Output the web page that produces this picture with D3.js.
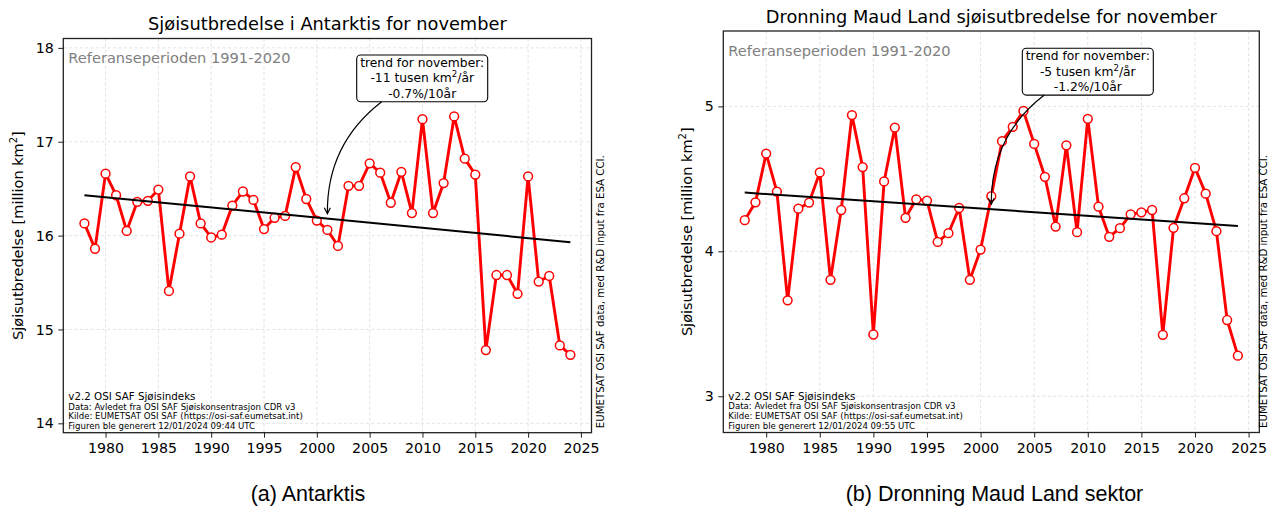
<!DOCTYPE html>
<html>
<head>
<meta charset="utf-8">
<script src="https://cdn.jsdelivr.net/npm/d3@7"></script>
<style>
  body { margin: 0; background: #fff; }
  svg { display: block; font-family: "DejaVu Sans", sans-serif; }
</style>
</head>
<body>
<svg id="chart" width="1269" height="508"></svg>
<script>
// ---------------- DATA ----------------
const years = [1978, 1979, 1980, 1981, 1982, 1983, 1984, 1985, 1986, 1987,
               1988, 1989, 1990, 1991, 1992, 1993, 1994, 1995, 1996, 1997,
               1998, 1999, 2000, 2001, 2002, 2003, 2004, 2005, 2006, 2007,
               2008, 2009, 2010, 2011, 2012, 2013, 2014, 2015, 2016, 2017,
               2018, 2019, 2020, 2021, 2022, 2023, 2024];

// Antarktis, november sea ice extent [million km2]
const antarktisValues = [16.13, 15.86, 16.66, 16.43, 16.05, 16.36, 16.37, 16.49, 15.41, 16.02,
                         16.63, 16.13, 15.98, 16.01, 16.32, 16.47, 16.38, 16.07, 16.19, 16.21,
                         16.73, 16.39, 16.16, 16.06, 15.89, 16.53, 16.53, 16.77, 16.67, 16.35,
                         16.68, 16.24, 17.24, 16.24, 16.56, 17.27, 16.82, 16.65, 14.78, 15.58,
                         15.58, 15.38, 16.63, 15.51, 15.57, 14.83, 14.73];

// Dronning Maud Land sector, november sea ice extent [million km2]
const dmlValues = [4.215, 4.338, 4.674, 4.412, 3.662, 4.294, 4.336, 4.544, 3.803, 4.285,
                   4.940, 4.581, 3.426, 4.482, 4.854, 4.231, 4.359, 4.350, 4.065, 4.125,
                   4.299, 3.803, 4.012, 4.380, 4.760, 4.859, 4.968, 4.741, 4.514, 4.171,
                   4.731, 4.132, 4.914, 4.308, 4.100, 4.160, 4.255, 4.269, 4.285, 3.424,
                   4.162, 4.366, 4.576, 4.398, 4.139, 3.526, 3.280];

// Trend lines (endpoints)
const trendYears = [1978, 2024];
const antarktisTrend = [16.43, 15.93];
const dmlTrend = [4.405, 4.175];
const annotationYear = 2001;

// Ticks
const xTickValues = [1980, 1985, 1990, 1995, 2000, 2005, 2010, 2015, 2020, 2025];
const antarktisYTicks = [14, 15, 16, 17, 18];
const dmlYTicks = [3, 4, 5];

// Texts
const antarktisTitle = "Sjøisutbredelse i Antarktis for november";
const dmlTitle = "Dronning Maud Land sjøisutbredelse for november";
const antarktisCaption = "(a) Antarktis";
const dmlCaption = "(b) Dronning Maud Land sektor";
const refText = "Referanseperioden 1991-2020";
const antarktisTrendText = ["trend for november:", "-11 tusen km", "/år", "-0.7%/10år"];
const dmlTrendText = ["trend for november:", "-5 tusen km", "/år", "-1.2%/10år"];
const sourceLines = ["v2.2 OSI SAF Sjøisindeks",
                     "Data: Avledet fra OSI SAF Sjøiskonsentrasjon CDR v3",
                     "Kilde: EUMETSAT OSI SAF (https://osi-saf.eumetsat.int)"];
const antarktisGenerated = "Figuren ble generert 12/01/2024 09:44 UTC";
const dmlGenerated = "Figuren ble generert 12/01/2024 09:55 UTC";
const sideText = "EUMETSAT OSI SAF data, med R&D input fra ESA CCI.";

// ---------------- LAYOUT ----------------
const panels = [
  {
    left: 63.3, right: 591.5, top: 38.5, bottom: 432.7,
    xDomain: [1976, 2026], yDomain: [13.9, 18.1],
    values: antarktisValues, yTicks: antarktisYTicks, trend: antarktisTrend,
    title: antarktisTitle, caption: antarktisCaption, captionX: 308,
    trendText: antarktisTrendText, generated: antarktisGenerated,
    boxCx: 422.2, boxTop: 55, arrowStartDx: -40.5,
    ylabelX: 18.3, sideX: 600
  },
  {
    left: 723.3, right: 1259.3, top: 31, bottom: 432.5,
    xDomain: [1976, 2026], yDomain: [2.75, 5.52],
    values: dmlValues, yTicks: dmlYTicks, trend: dmlTrend,
    title: dmlTitle, caption: dmlCaption, captionX: 994.5,
    trendText: dmlTrendText, generated: dmlGenerated,
    boxCx: 1087.8, boxTop: 48.3, arrowStartDx: -43.5,
    ylabelX: 687, sideX: 1263.5
  }
];

const svg = d3.select("#chart");
const RED = "#ff0000";

function drawPanel(p) {
  const g = svg.append("g");
  const x = d3.scaleLinear().domain(p.xDomain).range([p.left, p.right]);
  const y = d3.scaleLinear().domain(p.yDomain).range([p.bottom, p.top]);

  // grid
  const grid = g.append("g").attr("stroke", "#dadada").attr("stroke-width", 0.8)
    .attr("stroke-dasharray", "3,2.5");
  grid.selectAll("line.gx").data(xTickValues).join("line").attr("class", "gx")
    .attr("x1", d => x(d)).attr("x2", d => x(d)).attr("y1", p.top).attr("y2", p.bottom);
  grid.selectAll("line.gy").data(p.yTicks).join("line").attr("class", "gy")
    .attr("x1", p.left).attr("x2", p.right).attr("y1", d => y(d)).attr("y2", d => y(d));

  // axes
  const xAxis = d3.axisBottom(x).tickValues(xTickValues).tickSize(5).tickPadding(5.5)
    .tickFormat(d3.format("d"));
  const gx = g.append("g").attr("transform", `translate(0,${p.bottom})`).call(xAxis);
  const yAxis = d3.axisLeft(y).tickValues(p.yTicks).tickSize(5).tickPadding(4.5)
    .tickFormat(d3.format("d"));
  const gy = g.append("g").attr("transform", `translate(${p.left},0)`).call(yAxis);
  [gx, gy].forEach(a => {
    a.select(".domain").remove();
    a.selectAll("line").attr("stroke", "#222").attr("stroke-width", 1);
    a.selectAll("text").attr("font-family", "DejaVu Sans").attr("font-size", 14.2).attr("fill", "#000");
  });

  // data line + markers
  const line = d3.line().x((d, i) => x(years[i])).y(d => y(d));
  g.append("path").datum(p.values).attr("d", line).attr("fill", "none")
    .attr("stroke", RED).attr("stroke-width", 2.9).attr("stroke-linejoin", "round");
  g.selectAll("circle.pt").data(p.values).join("circle").attr("class", "pt")
    .attr("cx", (d, i) => x(years[i])).attr("cy", d => y(d)).attr("r", 4.4)
    .attr("fill", "#fff").attr("stroke", RED).attr("stroke-width", 1.5);

  // trend line
  const trendLine = d3.line().x((d, i) => x(trendYears[i])).y(d => y(d));
  g.append("path").datum(p.trend).attr("d", trendLine).attr("fill", "none")
    .attr("stroke", "#000").attr("stroke-width", 2);

  // frame
  g.append("rect").attr("x", p.left).attr("y", p.top)
    .attr("width", p.right - p.left).attr("height", p.bottom - p.top)
    .attr("fill", "none").attr("stroke", "#222").attr("stroke-width", 1.3);

  // title
  g.append("text").attr("x", (p.left + p.right) / 2).attr("y", p.top - 8.5)
    .attr("text-anchor", "middle").attr("font-size", 17.8).attr("fill", "#000").text(p.title);

  // caption
  g.append("text").attr("x", p.captionX).attr("y", 501)
    .attr("text-anchor", "middle").attr("font-family", "Liberation Sans, Arial, sans-serif")
    .attr("font-size", 21.5).attr("fill", "#000").text(p.caption);

  // y label
  const yl = g.append("text")
    .attr("transform", `translate(${p.ylabelX},${(p.top + p.bottom) / 2}) rotate(-90)`)
    .attr("text-anchor", "middle").attr("dy", "0.35em").attr("font-size", 14.5).attr("fill", "#000");
  yl.append("tspan").text("Sjøisutbredelse [million km");
  yl.append("tspan").attr("font-size", 10).attr("dy", -6).text("2");
  yl.append("tspan").attr("dy", 6).text("]");

  // reference period text
  g.append("text").attr("x", p.left + 5).attr("y", p.top + 24.8)
    .attr("font-size", 14.6).attr("fill", "#808080").text(refText);

  // source lines
  const srcBase = [p.bottom - 33, p.bottom - 23.2, p.bottom - 13.6];
  g.append("text").attr("x", p.left + 5).attr("y", srcBase[0])
    .attr("font-size", 10.3).attr("fill", "#000").text(sourceLines[0]);
  g.append("text").attr("x", p.left + 5).attr("y", srcBase[1])
    .attr("font-size", 8.6).attr("fill", "#000").text(sourceLines[1]);
  g.append("text").attr("x", p.left + 5).attr("y", srcBase[2])
    .attr("font-size", 8.6).attr("fill", "#000").text(sourceLines[2]);
  g.append("text").attr("x", p.left + 5).attr("y", p.bottom - 4)
    .attr("font-size", 8.6).attr("fill", "#000").text(p.generated);

  // side text
  g.append("text").attr("transform", `translate(${p.sideX},${p.bottom - 4.5}) rotate(-90)`)
    .attr("dy", "0.35em").attr("font-size", 10.2).attr("fill", "#000").text(sideText);

  // annotation box
  const ann = g.append("g");
  const rect = ann.append("rect");
  const fs = 12.3, lh = 15.3;
  const b1 = p.boxTop + 12;
  const t1 = ann.append("text").attr("x", p.boxCx).attr("y", b1).attr("text-anchor", "middle")
    .attr("font-size", fs).attr("fill", "#000").text(p.trendText[0]);
  const t2 = ann.append("text").attr("x", p.boxCx).attr("y", b1 + lh).attr("text-anchor", "middle")
    .attr("font-size", fs).attr("fill", "#000");
  t2.append("tspan").text(p.trendText[1]);
  t2.append("tspan").attr("font-size", 8.6).attr("dy", -5).text("2");
  t2.append("tspan").attr("dy", 5).text(p.trendText[2]);
  const t3 = ann.append("text").attr("x", p.boxCx).attr("y", b1 + 2 * lh).attr("text-anchor", "middle")
    .attr("font-size", fs).attr("fill", "#000").text(p.trendText[3]);
  const w = Math.max(t1.node().getComputedTextLength(), t2.node().getComputedTextLength(),
                     t3.node().getComputedTextLength()) + 7;
  const boxBottom = b1 + 2 * lh + 4.2;
  rect.attr("x", p.boxCx - w / 2).attr("y", p.boxTop).attr("width", w)
    .attr("height", boxBottom - p.boxTop).attr("rx", 4).attr("ry", 4)
    .attr("fill", "#fff").attr("stroke", "#000").attr("stroke-width", 1.1);

  // arrow (curved, arc3-like)
  const trendAt = d3.scaleLinear().domain(trendYears).range(p.trend);
  const tip = [x(annotationYear), y(trendAt(annotationYear)) - 5];
  const start = [p.boxCx + p.arrowStartDx, boxBottom];
  const mid = [(start[0] + tip[0]) / 2, (start[1] + tip[1]) / 2];
  const dx = tip[0] - start[0], dy = tip[1] - start[1];
  const rad = 0.25;
  const ctrl = [mid[0] - rad * dy, mid[1] + rad * dx];
  const path = d3.path();
  path.moveTo(start[0], start[1]);
  path.quadraticCurveTo(ctrl[0], ctrl[1], tip[0], tip[1]);
  ann.append("path").attr("d", path.toString()).attr("fill", "none")
    .attr("stroke", "#000").attr("stroke-width", 1.2);
  // arrow head
  const ang = Math.atan2(tip[1] - ctrl[1], tip[0] - ctrl[0]);
  const hl = 6, hw = 3;
  const bx = tip[0] - hl * Math.cos(ang), by = tip[1] - hl * Math.sin(ang);
  const px = -Math.sin(ang), py = Math.cos(ang);
  ann.append("path")
    .attr("d", `M${bx + hw * px},${by + hw * py}L${tip[0]},${tip[1]}L${bx - hw * px},${by - hw * py}`)
    .attr("fill", "none").attr("stroke", "#000").attr("stroke-width", 1.2);
}

panels.forEach(drawPanel);
</script>
</body>
</html>
